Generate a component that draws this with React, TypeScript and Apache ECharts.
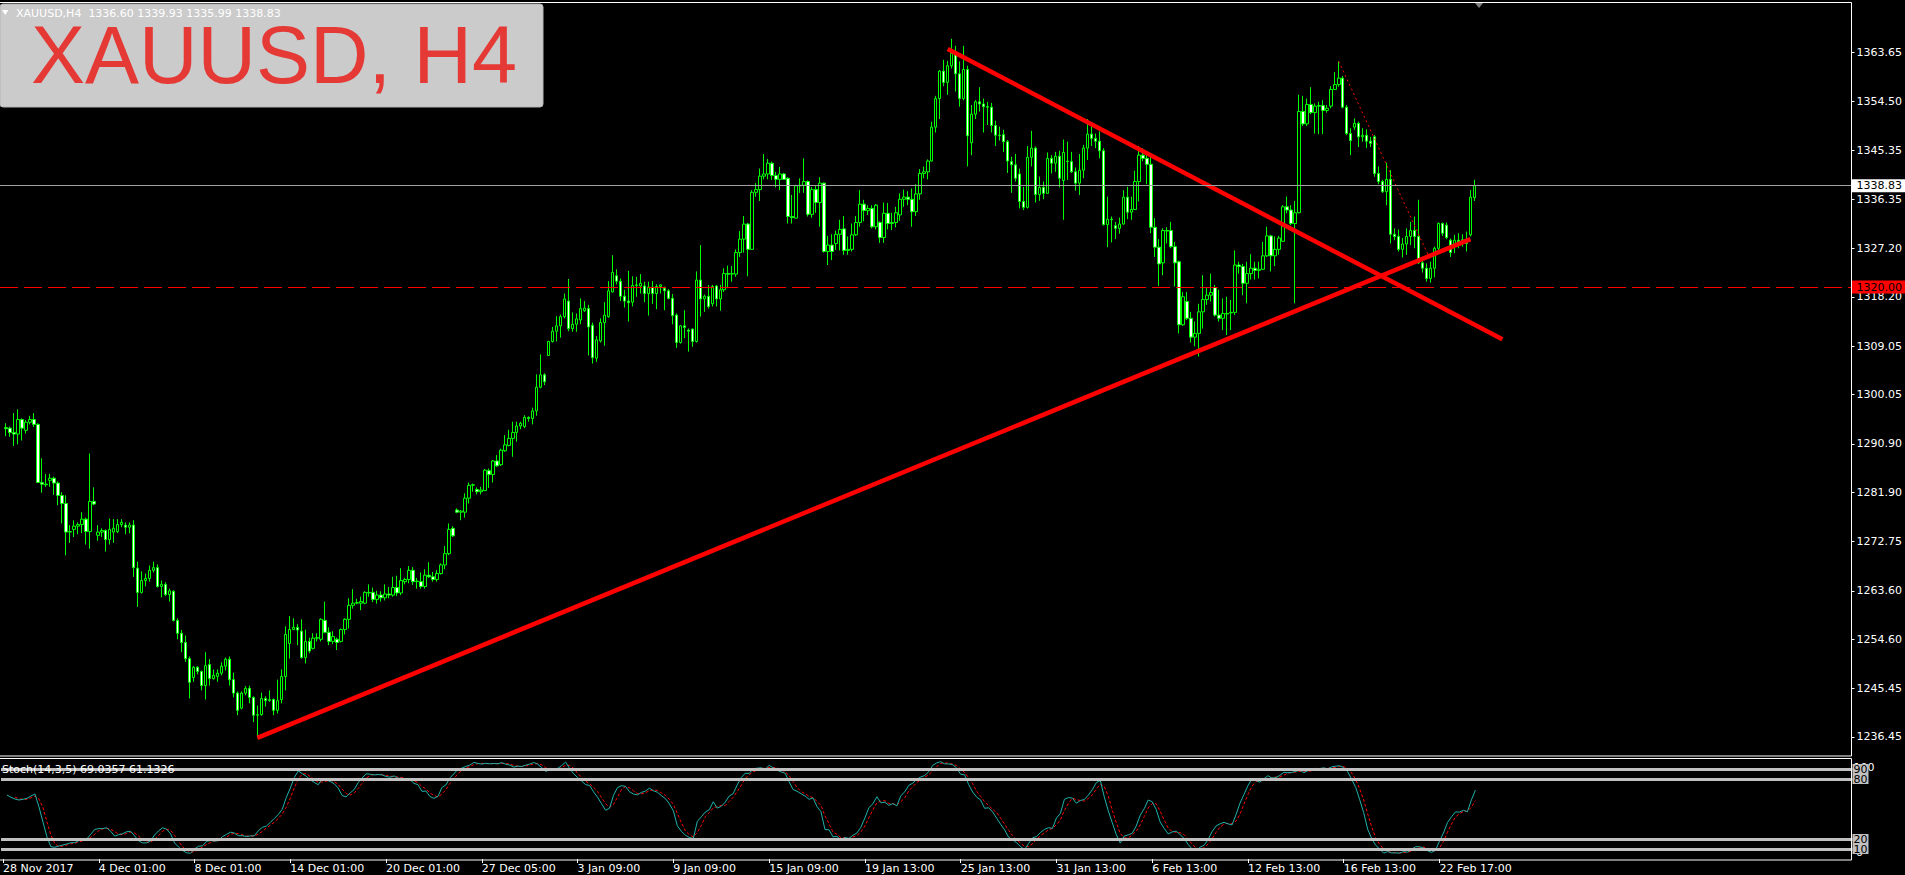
import React, { useEffect, useRef } from 'react';
import * as echarts from 'echarts';

// ---- price data (H4 bars, k = 1..369) ----
const opens = [
  1293.9, 1293.8, 1293.0, 1292.7, 1295.4, 1293.4, 1294.9, 1295.4, 1294.5, 1283.7,
  1283.4, 1284.1, 1284.5, 1283.6, 1281.3, 1279.8, 1274.5, 1275.0, 1275.6, 1275.9,
  1276.9, 1274.6, 1280.2, 1273.9, 1274.5, 1274.8, 1273.1, 1274.5, 1274.6, 1275.9,
  1275.8, 1275.4, 1275.8, 1267.8, 1263.3, 1265.5, 1265.9, 1267.4, 1267.9, 1264.4,
  1264.8, 1262.9, 1263.5, 1258.1, 1255.7, 1254.0, 1251.0, 1247.5, 1249.4, 1248.6,
  1246.0, 1249.9, 1247.3, 1247.7, 1248.3, 1249.6, 1250.9, 1247.1, 1244.6, 1241.8,
  1244.6, 1245.5, 1243.8, 1240.5, 1240.6, 1243.6, 1243.2, 1243.4, 1241.4, 1243.4,
  1247.7, 1253.8, 1256.4, 1256.8, 1256.1, 1251.2, 1254.2, 1252.9, 1254.8, 1254.6,
  1258.1, 1255.9, 1254.2, 1254.6, 1254.2, 1256.4, 1258.3, 1260.9, 1261.3, 1261.3,
  1261.3, 1263.3, 1263.3, 1262.0, 1262.8, 1262.3, 1263.0, 1262.8, 1264.2, 1263.2,
  1265.3, 1265.7, 1267.4, 1265.3, 1265.3, 1264.4, 1266.5, 1266.2, 1265.7, 1266.8,
  1268.4, 1270.5, 1275.2, 1278.6, 1278.2, 1278.2, 1280.8, 1283.2, 1282.4, 1282.0,
  1282.2, 1285.9, 1285.2, 1287.7, 1287.0, 1289.6, 1290.6, 1291.9, 1293.0, 1294.2,
  1294.1, 1295.8, 1295.6, 1297.0, 1301.4, 1303.7, 1307.3, 1309.9, 1311.8, 1312.8,
  1314.5, 1317.4, 1312.3, 1313.1, 1313.9, 1315.6, 1316.0, 1312.9, 1306.8, 1310.0,
  1313.4, 1314.5, 1319.1, 1322.1, 1321.1, 1318.3, 1317.4, 1317.2, 1320.3, 1320.2,
  1320.2, 1318.8, 1320.0, 1318.8, 1320.1, 1319.8, 1319.3, 1317.9, 1314.8, 1309.7,
  1312.8, 1312.0, 1312.2, 1309.9, 1321.3, 1317.8, 1318.3, 1316.9, 1320.2, 1317.8,
  1319.5, 1322.5, 1322.4, 1322.4, 1326.4, 1328.9, 1331.7, 1327.0, 1337.6, 1338.1,
  1340.6, 1341.0, 1343.0, 1340.7, 1340.0, 1341.0, 1340.2, 1333.1, 1332.8, 1338.8,
  1338.9, 1339.6, 1333.5, 1338.1, 1335.7, 1339.3, 1326.6, 1327.8, 1328.1, 1329.8,
  1330.8, 1326.8, 1327.0, 1329.7, 1332.0, 1335.4, 1334.2, 1334.6, 1331.2, 1332.0,
  1329.2, 1333.7, 1331.8, 1332.0, 1333.4, 1336.3, 1336.7, 1336.3, 1334.0, 1337.3,
  1341.1, 1341.4, 1343.4, 1349.7, 1355.0, 1360.1, 1358.0, 1361.1, 1363.4, 1359.6,
  1355.0, 1360.4, 1346.8, 1352.1, 1354.4, 1354.0, 1353.5, 1353.4, 1350.0, 1348.2,
  1348.3, 1347.0, 1343.3, 1342.7, 1341.0, 1335.9, 1334.8, 1344.1, 1345.8, 1337.2,
  1338.5, 1337.4, 1343.9, 1343.0, 1344.3, 1339.8, 1343.3, 1343.3, 1341.4, 1339.3,
  1341.7, 1345.8, 1348.4, 1347.6, 1347.1, 1345.3, 1331.6, 1332.6, 1331.4, 1330.9,
  1331.7, 1336.7, 1333.9, 1334.4, 1339.6, 1344.5, 1343.9, 1342.8, 1331.1, 1327.4,
  1324.5, 1330.5, 1330.5, 1327.5, 1324.7, 1313.0, 1317.3, 1314.2, 1310.7, 1311.4,
  1315.4, 1317.7, 1318.5, 1319.9, 1314.8, 1314.2, 1315.1, 1315.2, 1315.3, 1324.1,
  1323.8, 1320.7, 1322.5, 1323.5, 1323.1, 1323.3, 1325.8, 1329.5, 1325.8, 1327.0,
  1328.5, 1334.9, 1334.3, 1331.8, 1333.8, 1352.6, 1350.3, 1353.9, 1352.4, 1353.6,
  1353.7, 1352.8, 1353.6, 1356.7, 1357.6, 1358.8, 1353.4, 1348.5, 1349.7, 1350.4,
  1347.9, 1348.2, 1347.1, 1347.9, 1341.1, 1339.6, 1337.7, 1340.0, 1329.8, 1329.4,
  1327.0, 1328.0, 1329.4, 1330.5, 1329.4, 1324.5, 1323.5, 1321.6, 1323.5, 1327.2,
  1331.8, 1331.5, 1328.7, 1327.8, 1328.7, 1328.4, 1328.8, 1329.7, 1336.60,
];

const highs = [
  1294.7, 1294.1, 1296.6, 1297.3, 1295.6, 1295.3, 1296.1, 1296.6, 1294.7, 1288.2,
  1285.3, 1285.3, 1284.8, 1283.9, 1281.9, 1281.3, 1275.8, 1276.7, 1276.3, 1278.2,
  1277.2, 1289.1, 1282.8, 1275.8, 1275.2, 1275.0, 1277.0, 1276.9, 1276.9, 1276.9,
  1276.3, 1276.3, 1276.7, 1269.0, 1267.2, 1266.8, 1268.3, 1269.0, 1268.5, 1265.5,
  1265.2, 1264.0, 1263.7, 1258.5, 1256.3, 1255.3, 1251.4, 1249.6, 1249.6, 1248.8,
  1252.2, 1250.9, 1249.0, 1249.0, 1250.3, 1251.2, 1251.4, 1248.4, 1244.9, 1244.9,
  1245.9, 1246.0, 1244.0, 1242.3, 1244.7, 1244.0, 1245.1, 1243.6, 1247.1, 1249.0,
  1257.0, 1258.9, 1258.5, 1257.4, 1258.3, 1256.4, 1254.9, 1255.7, 1255.7, 1258.5,
  1261.6, 1256.8, 1256.1, 1254.9, 1256.6, 1258.5, 1262.2, 1263.9, 1262.1, 1262.5,
  1263.5, 1264.8, 1264.2, 1263.6, 1263.5, 1264.8, 1264.3, 1266.2, 1266.4, 1267.8,
  1266.0, 1268.2, 1268.0, 1266.0, 1267.0, 1267.6, 1268.9, 1267.1, 1267.4, 1268.7,
  1271.9, 1276.1, 1275.6, 1278.9, 1278.6, 1281.7, 1283.7, 1283.5, 1282.8, 1282.9,
  1286.2, 1286.3, 1287.9, 1288.8, 1290.0, 1292.5, 1293.5, 1295.0, 1295.0, 1295.0,
  1296.2, 1296.0, 1297.6, 1303.8, 1307.5, 1304.0, 1310.0, 1312.6, 1314.6, 1314.9,
  1318.8, 1321.5, 1315.3, 1315.1, 1317.9, 1317.4, 1316.7, 1313.4, 1310.9, 1314.2,
  1317.2, 1321.1, 1325.9, 1323.3, 1321.6, 1319.5, 1323.0, 1322.0, 1321.9, 1322.4,
  1321.0, 1321.0, 1321.1, 1320.5, 1320.5, 1320.1, 1319.6, 1318.7, 1315.1, 1312.9,
  1315.7, 1312.3, 1312.3, 1322.9, 1327.8, 1318.6, 1320.4, 1320.4, 1320.4, 1320.4,
  1323.5, 1324.0, 1323.9, 1327.0, 1330.4, 1333.2, 1331.9, 1338.0, 1339.3, 1342.0,
  1344.7, 1343.8, 1343.3, 1341.4, 1342.3, 1341.2, 1340.4, 1337.1, 1339.0, 1340.2,
  1343.9, 1339.8, 1338.6, 1338.8, 1340.4, 1339.4, 1329.5, 1329.8, 1330.5, 1332.5,
  1333.2, 1329.4, 1331.8, 1333.2, 1338.0, 1336.2, 1335.2, 1335.2, 1335.4, 1332.2,
  1335.7, 1335.6, 1333.8, 1334.9, 1337.4, 1338.1, 1337.8, 1338.3, 1339.1, 1341.9,
  1342.4, 1343.7, 1350.7, 1355.5, 1360.3, 1362.2, 1362.0, 1366.1, 1364.8, 1361.9,
  1364.8, 1361.1, 1353.8, 1354.7, 1357.1, 1355.0, 1354.4, 1354.2, 1350.9, 1349.8,
  1349.2, 1347.3, 1344.2, 1344.7, 1342.0, 1338.6, 1346.2, 1349.0, 1346.1, 1340.5,
  1339.6, 1345.0, 1344.5, 1345.1, 1345.3, 1347.4, 1347.0, 1345.1, 1342.2, 1344.7,
  1346.4, 1351.2, 1350.1, 1348.5, 1348.9, 1345.8, 1336.8, 1333.1, 1332.1, 1332.9,
  1338.0, 1338.6, 1336.8, 1341.6, 1346.2, 1345.8, 1344.8, 1344.8, 1332.8, 1328.9,
  1330.9, 1331.1, 1332.1, 1328.4, 1324.9, 1319.1, 1319.1, 1315.4, 1313.6, 1316.9,
  1322.2, 1319.8, 1322.5, 1320.4, 1319.5, 1317.9, 1318.2, 1317.6, 1326.8, 1324.7,
  1324.3, 1324.7, 1326.1, 1324.7, 1324.7, 1328.4, 1331.2, 1329.7, 1329.4, 1329.5,
  1335.2, 1336.8, 1335.2, 1336.0, 1355.7, 1355.5, 1355.0, 1357.1, 1354.1, 1354.4,
  1354.7, 1353.8, 1357.3, 1359.9, 1361.9, 1359.2, 1353.8, 1349.5, 1351.3, 1350.7,
  1349.5, 1349.3, 1347.9, 1348.2, 1342.4, 1339.9, 1343.1, 1341.7, 1330.9, 1330.7,
  1329.1, 1330.9, 1332.1, 1333.1, 1336.2, 1325.0, 1324.4, 1324.7, 1327.5, 1332.0,
  1332.0, 1332.0, 1329.0, 1329.7, 1330.0, 1329.8, 1330.3, 1338.0, 1339.93,
];

const lows = [
  1292.3, 1292.2, 1290.5, 1290.8, 1291.5, 1292.8, 1294.5, 1294.0, 1283.6, 1281.8,
  1282.9, 1282.9, 1281.4, 1279.5, 1276.1, 1270.2, 1272.5, 1273.6, 1274.1, 1274.3,
  1272.2, 1271.4, 1279.5, 1272.9, 1273.6, 1270.9, 1272.2, 1272.5, 1274.3, 1275.4,
  1274.1, 1274.3, 1266.2, 1260.6, 1263.1, 1264.4, 1265.3, 1267.0, 1264.2, 1262.4,
  1262.6, 1261.6, 1257.9, 1254.6, 1252.2, 1250.4, 1243.6, 1246.7, 1248.1, 1245.1,
  1243.4, 1246.0, 1247.1, 1246.7, 1247.9, 1248.8, 1246.0, 1243.8, 1240.5, 1241.6,
  1244.2, 1242.7, 1239.2, 1236.2, 1240.4, 1242.1, 1243.0, 1240.5, 1240.8, 1242.7,
  1245.1, 1251.0, 1256.3, 1253.5, 1251.0, 1250.1, 1252.0, 1252.7, 1254.2, 1254.2,
  1255.7, 1253.5, 1253.7, 1252.6, 1254.0, 1255.5, 1256.6, 1260.3, 1261.1, 1260.0,
  1261.1, 1262.5, 1261.5, 1261.2, 1261.6, 1261.8, 1262.2, 1262.5, 1262.6, 1262.8,
  1264.8, 1265.0, 1264.7, 1264.0, 1264.0, 1264.0, 1266.0, 1265.3, 1265.3, 1266.6,
  1267.6, 1270.2, 1273.6, 1278.0, 1276.7, 1277.2, 1279.8, 1282.0, 1281.5, 1281.5,
  1282.1, 1282.7, 1283.7, 1286.6, 1286.8, 1289.4, 1290.4, 1288.5, 1291.3, 1293.6,
  1293.8, 1295.0, 1294.5, 1296.1, 1301.2, 1301.8, 1307.2, 1309.7, 1309.9, 1310.6,
  1314.2, 1311.8, 1311.7, 1311.7, 1313.1, 1315.4, 1307.3, 1305.8, 1306.1, 1309.7,
  1309.1, 1314.3, 1319.0, 1320.5, 1317.4, 1316.2, 1313.6, 1316.4, 1318.2, 1318.8,
  1317.2, 1314.7, 1316.9, 1315.9, 1318.8, 1315.7, 1317.7, 1313.1, 1308.7, 1309.5,
  1310.5, 1308.0, 1308.9, 1309.7, 1314.5, 1315.4, 1316.0, 1316.4, 1316.4, 1315.6,
  1319.1, 1319.8, 1321.0, 1321.9, 1325.6, 1326.4, 1322.0, 1326.9, 1336.8, 1336.0,
  1340.0, 1340.0, 1339.9, 1338.5, 1338.0, 1339.9, 1331.8, 1331.8, 1332.7, 1337.5,
  1337.5, 1333.1, 1332.9, 1333.8, 1331.2, 1326.4, 1324.1, 1325.0, 1326.9, 1326.8,
  1326.0, 1326.0, 1326.6, 1329.5, 1331.2, 1332.2, 1333.4, 1330.9, 1330.7, 1328.2,
  1328.2, 1330.7, 1330.6, 1331.1, 1332.3, 1334.9, 1335.2, 1331.2, 1333.2, 1336.2,
  1340.2, 1340.0, 1343.3, 1348.7, 1351.2, 1357.3, 1355.7, 1360.6, 1356.3, 1353.5,
  1354.7, 1342.4, 1344.5, 1351.2, 1352.6, 1348.7, 1350.1, 1348.7, 1346.2, 1347.2,
  1345.1, 1341.2, 1337.5, 1339.6, 1334.6, 1334.3, 1334.6, 1342.4, 1335.7, 1336.0,
  1336.3, 1337.3, 1341.1, 1341.4, 1338.5, 1332.5, 1339.9, 1341.2, 1337.9, 1337.1,
  1340.2, 1343.6, 1346.2, 1345.8, 1343.9, 1331.4, 1327.4, 1328.3, 1328.9, 1329.9,
  1331.6, 1332.6, 1332.5, 1334.3, 1335.9, 1343.4, 1339.1, 1330.0, 1325.6, 1320.2,
  1322.2, 1328.1, 1327.2, 1320.1, 1311.4, 1312.8, 1313.9, 1309.7, 1309.0, 1307.1,
  1312.3, 1316.7, 1317.3, 1314.5, 1313.6, 1312.0, 1311.1, 1312.0, 1314.8, 1322.5,
  1318.5, 1317.0, 1321.4, 1321.4, 1321.6, 1323.2, 1325.6, 1322.9, 1323.9, 1326.0,
  1328.4, 1333.7, 1331.5, 1317.0, 1333.7, 1349.9, 1349.9, 1352.1, 1348.5, 1348.4,
  1348.4, 1352.4, 1353.2, 1356.6, 1357.2, 1353.2, 1348.2, 1344.5, 1349.2, 1346.0,
  1347.0, 1345.8, 1346.0, 1340.5, 1339.1, 1337.5, 1335.2, 1328.1, 1328.7, 1326.6,
  1325.5, 1326.0, 1327.8, 1327.2, 1324.3, 1322.7, 1321.0, 1320.8, 1321.8, 1326.9,
  1329.5, 1328.9, 1325.6, 1326.3, 1327.2, 1327.5, 1326.6, 1329.4, 1335.99,
];

const closes = [
  1293.7, 1293.0, 1292.7, 1295.4, 1293.8, 1294.9, 1295.4, 1294.5, 1283.7, 1283.4,
  1283.3, 1284.5, 1283.6, 1281.3, 1279.8, 1274.5, 1274.6, 1275.6, 1275.9, 1276.9,
  1274.6, 1280.2, 1279.7, 1274.5, 1274.8, 1273.1, 1275.0, 1275.2, 1275.9, 1276.3,
  1275.4, 1275.8, 1267.9, 1263.3, 1265.5, 1265.9, 1267.4, 1267.9, 1264.4, 1264.8,
  1262.9, 1263.6, 1258.1, 1255.7, 1254.0, 1251.0, 1246.6, 1249.4, 1248.6, 1246.0,
  1249.7, 1247.3, 1247.9, 1248.3, 1249.6, 1250.9, 1247.1, 1244.6, 1241.4, 1244.6,
  1245.5, 1243.8, 1240.5, 1240.6, 1243.6, 1243.2, 1243.4, 1241.4, 1243.2, 1247.7,
  1255.5, 1256.4, 1256.8, 1256.3, 1251.2, 1254.2, 1252.4, 1254.8, 1254.9, 1258.3,
  1255.9, 1254.2, 1255.1, 1254.0, 1256.4, 1258.3, 1260.9, 1261.3, 1261.4, 1261.6,
  1263.3, 1263.2, 1262.0, 1262.8, 1262.3, 1263.0, 1262.8, 1264.2, 1263.2, 1265.5,
  1265.7, 1267.4, 1265.3, 1265.4, 1264.4, 1266.5, 1266.2, 1265.7, 1266.8, 1268.4,
  1270.5, 1275.0, 1273.8, 1278.2, 1278.4, 1280.8, 1283.2, 1283.3, 1282.0, 1282.3,
  1286.0, 1285.2, 1287.7, 1286.8, 1289.7, 1290.7, 1291.9, 1293.0, 1294.2, 1294.7,
  1295.8, 1295.6, 1297.0, 1301.4, 1303.7, 1302.4, 1309.9, 1311.8, 1312.8, 1314.5,
  1317.8, 1312.3, 1313.1, 1314.1, 1316.0, 1316.1, 1312.6, 1306.9, 1310.2, 1313.4,
  1314.8, 1319.3, 1322.7, 1321.1, 1318.3, 1317.4, 1317.1, 1320.3, 1320.4, 1320.7,
  1318.8, 1320.0, 1318.8, 1320.1, 1320.4, 1319.3, 1317.9, 1314.7, 1309.7, 1312.8,
  1312.5, 1311.8, 1309.9, 1321.3, 1317.8, 1318.3, 1316.4, 1320.1, 1317.8, 1319.5,
  1322.5, 1322.4, 1322.5, 1326.4, 1328.9, 1331.7, 1327.0, 1337.6, 1338.1, 1340.6,
  1341.0, 1343.0, 1340.7, 1340.0, 1341.0, 1340.0, 1333.1, 1332.9, 1338.8, 1338.9,
  1339.6, 1333.5, 1338.1, 1335.7, 1339.3, 1326.6, 1327.8, 1326.6, 1329.8, 1330.7,
  1326.8, 1327.0, 1329.7, 1332.0, 1335.4, 1334.2, 1334.6, 1331.2, 1335.2, 1329.2,
  1333.7, 1331.8, 1332.0, 1333.8, 1336.3, 1336.7, 1336.3, 1334.0, 1337.3, 1341.1,
  1341.4, 1343.4, 1349.7, 1355.0, 1360.1, 1358.0, 1361.1, 1363.4, 1359.6, 1355.0,
  1360.4, 1348.1, 1352.1, 1354.4, 1354.0, 1353.5, 1353.4, 1350.0, 1348.2, 1348.1,
  1347.0, 1343.4, 1342.7, 1340.2, 1335.9, 1334.8, 1344.1, 1345.8, 1337.2, 1338.5,
  1337.4, 1343.9, 1343.0, 1344.3, 1340.2, 1345.0, 1343.4, 1341.4, 1339.3, 1341.7,
  1345.8, 1348.4, 1347.6, 1347.1, 1345.3, 1331.6, 1332.6, 1332.5, 1330.9, 1331.7,
  1336.7, 1333.9, 1334.4, 1339.6, 1344.5, 1343.9, 1342.8, 1331.1, 1327.4, 1324.3,
  1330.5, 1330.4, 1327.5, 1324.5, 1313.0, 1318.2, 1314.2, 1310.7, 1311.4, 1315.4,
  1317.7, 1318.5, 1319.0, 1314.8, 1314.2, 1315.1, 1315.0, 1315.3, 1324.1, 1323.8,
  1320.7, 1322.5, 1323.5, 1323.1, 1323.3, 1325.8, 1329.5, 1325.8, 1327.0, 1329.1,
  1334.9, 1334.3, 1331.8, 1333.8, 1352.6, 1350.3, 1353.9, 1352.4, 1353.6, 1353.7,
  1352.8, 1353.2, 1356.7, 1357.6, 1358.8, 1353.4, 1348.5, 1347.2, 1350.4, 1347.9,
  1348.2, 1347.1, 1346.7, 1341.1, 1339.6, 1337.7, 1340.0, 1329.8, 1329.4, 1327.0,
  1328.0, 1329.4, 1330.5, 1329.4, 1324.5, 1323.5, 1321.6, 1323.5, 1327.2, 1331.8,
  1330.0, 1329.2, 1326.4, 1328.7, 1328.4, 1328.8, 1328.1, 1336.7, 1338.83,
];

// stochastic main line values for the first bars (before 14+5 bars of history exist)
const stochHead = [64, 61.7, 60, 59, 59.7, 60.7, 63, 65, 52.3, 37.3, 22.3, 12.3, 11.7, 13, 14, 15, 16.3];

const priceTicks = [
  1363.65, 1354.5, 1345.35, 1336.35, 1327.2, 1318.2, 1309.05, 1300.05,
  1290.9, 1281.9, 1272.75, 1263.6, 1254.6, 1245.45, 1236.45,
];

const timeLabels = [
  '28 Nov 2017', '4 Dec 01:00', '8 Dec 01:00', '14 Dec 01:00', '20 Dec 01:00', '27 Dec 05:00',
  '3 Jan 09:00', '9 Jan 09:00', '15 Jan 09:00', '19 Jan 13:00', '25 Jan 13:00', '31 Jan 13:00',
  '6 Feb 13:00', '12 Feb 13:00', '16 Feb 13:00', '22 Feb 17:00',
];
const LABEL_STEP = 24;
const CATEGORY_COUNT = 464;

const lastPrice = 1338.83;
const alertPrice = 1320.0;
const supportLine = [[64, 1236.3], [368, 1328.9]];
const resistanceLine = [[237, 1364.2], [376, 1310.3]];
const dottedLine = [[335, 1361.9], [358, 1325.0]];
const stochLevels = [90, 80, 20, 10];

const headerText = 'XAUUSD,H4  1336.60 1339.93 1335.99 1338.83';
const titleText = 'XAUUSD, H4';
const stochText = 'Stoch(14,3,5) 69.0357 61.1326';

const FONT = '"DejaVu Sans", Tahoma, sans-serif';

function computeStoch() {
  const n = closes.length;
  const main: (number | null)[] = [null];
  for (let i = 0; i < n; i++) {
    if (i < stochHead.length) {
      main.push(stochHead[i]);
      continue;
    }
    let num = 0;
    let den = 0;
    for (let j = i - 4; j <= i; j++) {
      let hh = -Infinity;
      let ll = Infinity;
      for (let m = j - 13; m <= j; m++) {
        hh = Math.max(hh, highs[m]);
        ll = Math.min(ll, lows[m]);
      }
      num += closes[j] - ll;
      den += hh - ll;
    }
    main.push(den > 0 ? (100 * num) / den : 100);
  }
  const signal = main.map((v, idx) =>
    idx < 3 || v == null ? null : ((main[idx] as number) + (main[idx - 1] as number) + (main[idx - 2] as number)) / 3
  );
  return { main, signal };
}

export default function App() {
  const ref = useRef<HTMLDivElement>(null);

  useEffect(() => {
    if (!ref.current) return;
    const chart = echarts.init(ref.current, undefined, { renderer: 'svg' });

    const categories = Array.from({ length: CATEGORY_COUNT }, (_, i) => String(i));
    const candles: any[] = [['-', '-', '-', '-']];
    for (let i = 0; i < opens.length; i++) candles.push([opens[i], closes[i], lows[i], highs[i]]);
    const { main, signal } = computeStoch();

    const labelShown = (index: number) => index % LABEL_STEP === 0 && index / LABEL_STEP < timeLabels.length;

    const priceLabel = (text: string, bg: string) => ({
      show: true,
      position: 'end',
      distance: 0,
      formatter: text,
      backgroundColor: bg,
      color: '#000',
      fontFamily: FONT,
      fontSize: 11,
      lineHeight: 12,
      padding: [1, 6, 0, 5],
    });
    const levelLabel = (text: string) => ({
      show: true,
      position: 'end',
      distance: 0,
      formatter: text,
      backgroundColor: '#c0c0c0',
      color: '#000',
      fontFamily: FONT,
      fontSize: 11,
      lineHeight: 10,
      padding: [0, 1, 0, 1],
    });

    const option: any = {
      animation: false,
      backgroundColor: '#000',
      grid: [
        { left: -3.5, top: 3, width: 1856, height: 753 },
        { left: -3.5, top: 759, width: 1856, height: 100 },
      ],
      xAxis: [
        { type: 'category', gridIndex: 0, data: categories, boundaryGap: true, show: false },
        {
          type: 'category',
          gridIndex: 1,
          data: categories,
          boundaryGap: true,
          axisLine: { show: false },
          splitLine: { show: false },
          axisTick: {
            show: true,
            alignWithLabel: true,
            interval: labelShown,
            length: 4,
            lineStyle: { color: '#ffffff' },
          },
          axisLabel: {
            interval: labelShown,
            formatter: (_v: string, index: number) => timeLabels[index / LABEL_STEP] ?? '',
            color: '#ffffff',
            fontFamily: FONT,
            fontSize: 11,
            align: 'left',
            margin: 4,
          },
        },
      ],
      yAxis: [
        {
          type: 'value',
          gridIndex: 0,
          position: 'right',
          min: 1232.92,
          max: 1372.75,
          splitLine: { show: false },
          axisLine: { show: false },
          axisTick: { show: true, customValues: priceTicks, length: 3, lineStyle: { color: '#ffffff' } },
          axisLabel: {
            customValues: priceTicks,
            formatter: (v: number) => v.toFixed(2),
            color: '#ffffff',
            fontFamily: FONT,
            fontSize: 11,
            margin: 5,
          },
        },
        { type: 'value', gridIndex: 1, min: 0, max: 100, show: false },
      ],
      series: [
        {
          type: 'candlestick',
          xAxisIndex: 0,
          yAxisIndex: 0,
          data: candles,
          barWidth: 3,
          z: 2,
          itemStyle: {
            color: '#000000',
            color0: '#ffffff',
            borderColor: '#00ff00',
            borderColor0: '#00ff00',
            borderColorDoji: '#00ff00',
            borderWidth: 1,
          },
          markLine: {
            silent: true,
            symbol: ['none', 'none'],
            animation: false,
            data: [
              { yAxis: lastPrice, lineStyle: { color: '#a0a0a0', type: 'solid', width: 1 }, label: priceLabel('1338.83', '#ffffff') },
              { yAxis: alertPrice, lineStyle: { color: '#ff0000', type: [18, 6], width: 1 }, label: priceLabel('1320.00', '#ff0000') },
            ],
          },
        },
        {
          type: 'line',
          xAxisIndex: 0,
          yAxisIndex: 0,
          data: supportLine,
          symbol: 'none',
          z: 4,
          lineStyle: { color: '#ff0000', width: 4.5, cap: 'butt' },
        },
        {
          type: 'line',
          xAxisIndex: 0,
          yAxisIndex: 0,
          data: resistanceLine,
          symbol: 'none',
          z: 4,
          lineStyle: { color: '#ff0000', width: 4.5, cap: 'butt' },
        },
        {
          type: 'line',
          xAxisIndex: 0,
          yAxisIndex: 0,
          data: dottedLine,
          symbol: 'none',
          z: 4,
          lineStyle: { color: '#ff0000', width: 1, type: [2, 3] },
        },
        {
          type: 'line',
          xAxisIndex: 1,
          yAxisIndex: 1,
          data: signal,
          symbol: 'none',
          z: 3,
          lineStyle: { color: '#ff0000', width: 1, type: [3, 2] },
        },
        {
          type: 'line',
          xAxisIndex: 1,
          yAxisIndex: 1,
          data: main,
          symbol: 'none',
          z: 4,
          lineStyle: { color: '#20b2aa', width: 1 },
          markLine: {
            silent: true,
            symbol: ['none', 'none'],
            animation: false,
            data: stochLevels.map((lv) => ({
              yAxis: lv,
              lineStyle: { color: '#c0c0c0', type: 'solid', width: 3 },
              label: levelLabel(String(lv)),
            })),
          },
        },
      ],
      graphic: [
        {
          type: 'rect',
          z: 50,
          shape: { x: -2, y: 2.5, width: 1853.5, height: 753.5 },
          style: { fill: 'none', stroke: '#ffffff', lineWidth: 1 },
        },
        {
          type: 'rect',
          z: 50,
          shape: { x: -2, y: 758.5, width: 1853.5, height: 101.5 },
          style: { fill: 'none', stroke: '#ffffff', lineWidth: 1 },
        },
        {
          type: 'rect',
          z: 60,
          shape: { x: 0, y: 4, width: 543, height: 103, r: 3 },
          style: { fill: '#cbcbcb', stroke: '#b4b4b4', lineWidth: 1 },
        },
        {
          type: 'text',
          z: 61,
          style: {
            text: titleText,
            x: 31,
            y: 55,
            fill: '#e53935',
            font: '81px "Liberation Sans", Arial, sans-serif',
            lineHeight: 62,
            align: 'left',
            verticalAlign: 'middle',
          },
        },
        {
          type: 'polygon',
          z: 61,
          shape: { points: [[2, 10], [8.5, 10], [5.25, 15]] },
          style: { fill: '#ffffff' },
        },
        {
          type: 'text',
          z: 61,
          style: { text: headerText, x: 16, y: 13, fill: '#ffffff', font: '11px ' + FONT, lineHeight: 11, align: 'left', verticalAlign: 'middle' },
        },
        {
          type: 'polygon',
          z: 61,
          shape: { points: [[1475, 3], [1483, 3], [1479, 8]] },
          style: { fill: '#808080' },
        },
        {
          type: 'text',
          z: 61,
          style: { text: stochText, x: 2, y: 769.5, fill: '#ffffff', font: '11px ' + FONT, align: 'left', verticalAlign: 'middle' },
        },
        {
          type: 'text',
          z: 1,
          style: { text: '100', x: 1853.5, y: 767, fill: '#ffffff', font: '11px ' + FONT, lineHeight: 9, align: 'left', verticalAlign: 'middle' },
        },
        {
          type: 'text',
          z: 1,
          style: { text: '0', x: 1856, y: 852, fill: '#ffffff', font: '11px ' + FONT, lineHeight: 9, align: 'left', verticalAlign: 'middle' },
        },
      ],
    };

    chart.setOption(option);
    return () => chart.dispose();
  }, []);

  return (
    <div
      ref={ref}
      style={{ position: 'absolute', left: 0, top: 0, width: '1905px', height: '875px', background: '#000' }}
    />
  );
}
